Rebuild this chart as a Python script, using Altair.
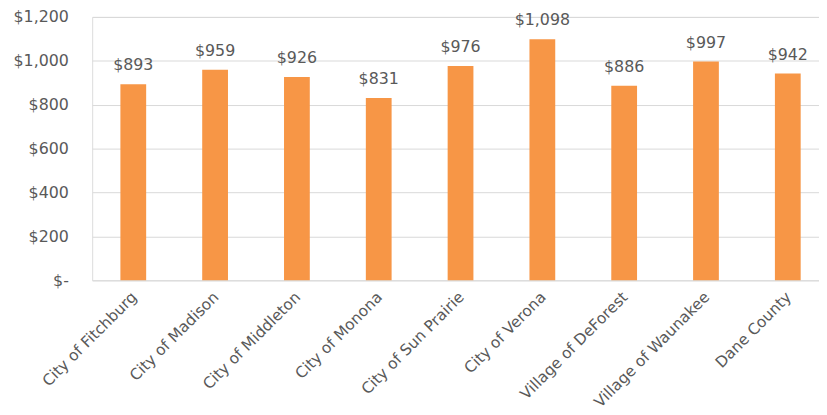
import altair as alt
import pandas as pd

categories = ["City of Fitchburg", "City of Madison", "City of Middleton", "City of Monona",
              "City of Sun Prairie", "City of Verona", "Village of DeForest",
              "Village of Waunakee", "Dane County"]
values = [893, 959, 926, 831, 976, 1098, 886, 997, 942]
value_labels = ["$893", "$959", "$926", "$831", "$976", "$1,098", "$886", "$997", "$942"]
y_ticks = [0, 200, 400, 600, 800, 1000, 1200]

df = pd.DataFrame({"cat": categories, "val": values, "lab": value_labels})

FONT = "DejaVu Sans"
GREY = "#595959"

x = alt.X("cat:N", sort=categories, title=None,
          scale=alt.Scale(range=[0, 744], paddingInner=0.685, paddingOuter=0.345),
          axis=alt.Axis(labelAngle=-45, labelAlign="right", labelBaseline="top",
                        labelFont=FONT, labelFontSize=15.5, labelColor=GREY, grid=False,
                        ticks=False, domain=False, labelPadding=9, labelOffset=-4,
                        labelLimit=300))
y = alt.Y("val:Q", title=None,
          scale=alt.Scale(domain=[0, 1200], nice=False),
          axis=alt.Axis(values=y_ticks, labelFont=FONT, labelFontSize=16, labelColor=GREY,
                        labelExpr="datum.value == 0 ? '$-\u00a0\u00a0' : '$' + format(datum.value, ',')",
                        ticks=False, domain=False, gridColor="#d9d9d9", gridWidth=1,
                        labelPadding=24))

bars = alt.Chart(df).mark_bar(color="#F79646").encode(x=x, y=y)
text = alt.Chart(df).mark_text(font=FONT, fontSize=16, color=GREY, baseline="alphabetic",
                               dy=-14).encode(x=x, y=y, text="lab:N")

chart = (bars + text).properties(
    width=734, height=266,
    padding={"left": 85, "top": 7, "right": 0, "bottom": 134},
    autosize=alt.AutoSizeParams(type="none"),
).configure_view(strokeWidth=0, stroke="transparent").configure(background="white")

chart.save("out.html", embed_options={"renderer": "svg", "actions": False})
